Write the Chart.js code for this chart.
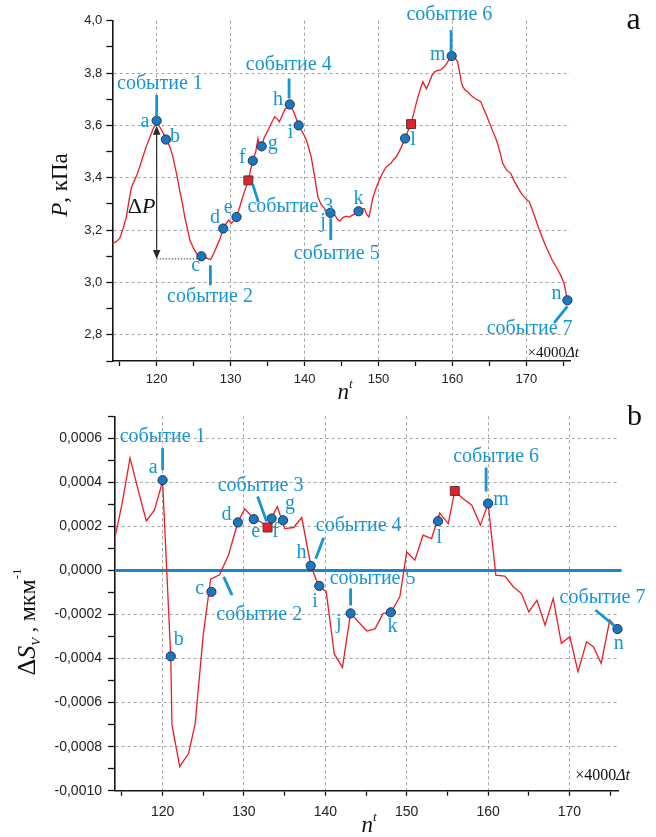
<!DOCTYPE html>
<html>
<head>
<meta charset="utf-8">
<script src="https://cdn.jsdelivr.net/npm/chart.js@4.4.1/dist/chart.umd.min.js"></script>
<style>
  html, body { margin: 0; padding: 0; background: #fff; }
  #wrap { position: relative; width: 656px; height: 837px; overflow: hidden; }
  #cTop { position: absolute; left: 0; top: 0; }
  #cBot { position: absolute; left: 0; top: 400px; }
</style>
</head>
<body>
<div id="wrap">
  <canvas id="cTop" width="656" height="405"></canvas>
  <canvas id="cBot" width="656" height="437"></canvas>
</div>
<script>
// ---------- shared axis ticks ----------
const xMajor = [120, 130, 140, 150, 160, 170];
const xMinor = [115, 125, 135, 145, 155, 165, 175];
const markLetters = ['a','b','c','d','e','f','g','h','i','j','k','l','m','n'];
const eventNames = ['событие 1','событие 2','событие 3','событие 4','событие 5','событие 6','событие 7'];

// ---------- panel a: pressure P, kPa ----------
const pN = [114.0,114.5,115.0,115.5,115.9,116.3,116.6,117.0,117.4,117.8,118.2,118.6,119.1,119.5,120.0,
  120.4,120.9,121.4,121.8,122.2,122.5,122.8,123.1,123.5,123.8,124.2,124.5,125.0,125.4,125.8,126.2,126.7,
  127.0,127.3,127.7,128.1,128.6,129.0,129.4,129.7,130.1,130.5,130.8,131.2,131.5,131.9,132.4,132.7,133.0,
  133.4,133.7,133.9,134.2,134.5,134.85,135.2,135.5,135.95,136.3,136.6,137.0,137.3,137.7,138.0,138.4,138.7,
  139.0,139.3,139.8,140.25,140.6,140.9,141.2,141.4,141.6,141.8,142.2,142.7,143.1,143.5,144.1,144.5,144.8,
  145.2,145.6,146.0,146.5,146.9,147.3,147.7,148.1,148.4,148.7,148.95,149.2,149.6,150.1,150.5,151.0,151.4,
  151.7,152.0,152.4,152.8,153.1,153.6,154.0,154.4,154.8,155.1,155.5,156.0,156.3,156.5,156.8,157.25,157.6,
  158.0,158.4,158.9,159.3,159.6,159.9,160.3,160.7,161.0,161.2,161.4,161.7,162.05,162.4,162.7,163.2,163.6,
  163.85,164.2,164.5,165.0,165.4,165.8,166.1,166.5,166.8,167.3,167.9,168.3,168.8,169.2,169.7,170.1,170.4,
  170.9,171.3,171.7,172.2,172.6,173.1,173.5,174.0,174.4,174.65,175.1,175.55];
const pVal = [3.150,3.155,3.168,3.210,3.250,3.320,3.365,3.390,3.416,3.450,3.486,3.520,3.556,3.585,3.612,
  3.595,3.570,3.540,3.518,3.480,3.440,3.400,3.353,3.300,3.250,3.200,3.161,3.130,3.110,3.105,3.098,3.095,
  3.090,3.088,3.110,3.136,3.170,3.206,3.225,3.238,3.225,3.240,3.250,3.285,3.314,3.350,3.390,3.430,3.465,
  3.500,3.550,3.525,3.520,3.550,3.570,3.590,3.608,3.633,3.625,3.614,3.640,3.659,3.672,3.680,3.660,3.640,
  3.615,3.595,3.570,3.544,3.510,3.480,3.430,3.400,3.360,3.327,3.300,3.282,3.270,3.266,3.257,3.240,3.235,
  3.248,3.253,3.250,3.257,3.262,3.272,3.280,3.282,3.260,3.250,3.280,3.320,3.355,3.390,3.415,3.440,3.450,
  3.455,3.468,3.480,3.500,3.518,3.550,3.580,3.608,3.650,3.684,3.725,3.767,3.750,3.740,3.760,3.792,3.805,
  3.810,3.812,3.824,3.840,3.855,3.865,3.860,3.843,3.800,3.765,3.748,3.735,3.729,3.718,3.710,3.700,3.695,
  3.690,3.665,3.646,3.610,3.582,3.555,3.531,3.490,3.455,3.430,3.416,3.390,3.365,3.345,3.327,3.315,3.308,
  3.270,3.238,3.205,3.168,3.140,3.110,3.085,3.060,3.040,3.027,2.996,2.932];
const pMarkN   = [120.0, 121.25, 126.05, 129.0, 130.8, 133.0, 134.2, 138.0, 139.2, 143.5, 147.3, 153.6, 159.9, 175.55];
const pMarkVal = [3.618, 3.546, 3.100, 3.206, 3.250, 3.465, 3.520, 3.680, 3.600, 3.266, 3.272, 3.550, 3.865, 2.932];
const pSqN   = [132.4, 154.4];
const pSqVal = [3.390, 3.605];
const dPLow = 3.09;               // lower end of the ΔP arrow
const pYMajor = [2.8, 3.0, 3.2, 3.4, 3.6, 3.8, 4.0];
const pYMinor = [2.7, 2.9, 3.1, 3.3, 3.5, 3.7, 3.9];

// ---------- panel b: ΔS_V, 1/мкм ----------
const sN = [114.15,115,116,117,118,119,120,121,121.15,122.1,123.2,124,125,125.9,127,128.1,129.25,130.1,
  131.2,132.1,132.9,133.4,134.1,135,136.1,137.1,138.2,139.2,140.1,141.1,142.1,143.1,145.1,146.1,147.1,
  148.05,149.15,150,151,152,153.05,154.05,155.1,155.9,156.9,158,159.05,160,160.95,162.05,163.1,164.1,165,
  166,167,168,169,170.05,171.05,172.1,172.95,173.9,174.95,175.9];
const sVal = [0.00015,0.00030,0.00051,0.000365,0.000225,0.000275,0.000405,-0.00039,-0.00070,-0.00089,
  -0.00083,-0.000695,-0.00029,-0.00004,-0.00002,0.00007,0.00022,0.00028,0.000235,0.00022,0.000195,0.00024,
  0.00029,0.00019,0.000195,0.00024,0.000025,-0.000075,-0.000095,-0.00038,-0.00044,-0.000195,-0.000275,
  -0.000265,-0.000195,-0.000192,-0.00012,0.000084,0.000047,0.00016,0.000145,0.00026,0.000213,0.000361,
  0.000327,0.000296,0.000206,0.000304,-0.000021,-0.000026,-0.000074,-0.000105,-0.000188,-0.000135,
  -0.000248,-0.000127,-0.000331,-0.000301,-0.00046,-0.000324,-0.000347,-0.000422,-0.000225,-0.000266];
const sMarkN   = [120.0, 121.0, 126.0, 129.25, 131.2, 133.4, 134.8, 138.2, 139.25, 143.1, 148.05, 153.85, 160.0, 175.9];
const sMarkVal = [0.00041, -0.00039, -0.000097, 0.000218, 0.000233, 0.000236, 0.000228, 0.000021, -0.00007,
  -0.000195, -0.00019, 0.000224, 0.000304, -0.000266];
const sSqN   = [132.9, 155.9];
const sSqVal = [0.000195, 0.000361];
const sRefN   = [114.15, 176.4];  // zero reference level
const sRefVal = [0, 0];
const sYMajor = [-0.0010, -0.0008, -0.0006, -0.0004, -0.0002, 0.0000, 0.0002, 0.0004, 0.0006];
const sYMinor = [-0.0009, -0.0007, -0.0005, -0.0003, -0.0001, 0.0001, 0.0003, 0.0005, 0.0007];

// ---------- styling ----------
const SERIF = '"Liberation Serif", "Times New Roman", serif';
const SANS = '"Liberation Sans", Arial, sans-serif';
const RED = '#ec1c24';
const BLUE_TXT = '#1596d3';
const BLUE_MK = '#1a78c0';
const MK_EDGE = '#1d3550';
const GRID = '#a3a3a3';
const AXIS = '#151515';
const EVENT_FONT = '20px ' + SERIF;
const LETTER_FONT = '20px ' + SERIF;

const pts = (xs, ys) => xs.map((x, i) => ({ x: x, y: ys[i] }));
const tickList = (main, minor) =>
  main.map(v => ({ value: v, main: true })).concat(minor.map(v => ({ value: v, main: false })))
      .sort((a, b) => a.value - b.value);

function richWidth(ctx, runs) {
  let w = 0;
  runs.forEach(r => { ctx.font = r.font; w += ctx.measureText(r.t).width; });
  return w;
}
function drawRich(ctx, runs, x, y, align) {
  const w = richWidth(ctx, runs);
  let cx = align === 'center' ? x - w / 2 : align === 'right' ? x - w : x;
  ctx.textAlign = 'left';
  ctx.textBaseline = 'alphabetic';
  runs.forEach(r => {
    ctx.font = r.font;
    ctx.fillText(r.t, cx, y + (r.dy || 0));
    cx += ctx.measureText(r.t).width;
  });
}
function segment(ctx, x1, y1, x2, y2) {
  ctx.beginPath(); ctx.moveTo(x1, y1); ctx.lineTo(x2, y2); ctx.stroke();
}

// captions, callouts and axis titles
function makeNotes(o) {
  return {
    id: 'notes' + o.key,
    afterDatasetsDraw(chart) {
      const ctx = chart.ctx, xs = chart.scales.x, ys = chart.scales.y;
      const px = (n, v) => ({ x: xs.getPixelForValue(n), y: ys.getPixelForValue(v) });
      ctx.save();
      o.events.forEach((ev, k) => {
        const p = ev.sq ? px(o.sqN[ev.i], o.sqV[ev.i]) : px(o.markN[ev.i], o.markV[ev.i]);
        ctx.strokeStyle = BLUE_TXT; ctx.lineWidth = 2.8; ctx.lineCap = 'butt';
        segment(ctx, p.x + ev.line[0], p.y + ev.line[1], p.x + ev.line[2], p.y + ev.line[3]);
        ctx.fillStyle = BLUE_TXT; ctx.font = EVENT_FONT;
        ctx.textAlign = 'center'; ctx.textBaseline = 'middle';
        ctx.fillText(eventNames[k], p.x + ev.text[0], p.y + ev.text[1]);
      });
      ctx.fillStyle = BLUE_TXT; ctx.font = LETTER_FONT;
      ctx.textAlign = 'center'; ctx.textBaseline = 'middle';
      markLetters.forEach((L, i) => {
        const p = px(o.markN[i], o.markV[i]);
        ctx.fillText(L, p.x + o.letterOff[i][0], p.y + o.letterOff[i][1] - 2);
      });
      ctx.fillStyle = '#111';
      o.extras(ctx, chart, px);
      ctx.restore();
    }
  };
}

function axisX(min, max, h, pad, fs) {
  return {
    type: 'linear', min: min, max: max,
    afterBuildTicks: s => { s.ticks = tickList(xMajor, xMinor); },
    afterFit: s => { s.height = h; },
    grid: {
      color: c => (c.tick && c.tick.main) ? GRID : 'rgba(0,0,0,0)',
      lineWidth: 1, drawTicks: true, tickLength: 5, tickWidth: 1.3, tickColor: AXIS
    },
    border: { display: true, color: AXIS, width: 1.6, dash: [3, 3] },
    ticks: {
      autoSkip: false, maxRotation: 0, padding: pad, color: '#222',
      font: { family: SANS, size: fs },
      callback: (v, i, t) => t[i].main ? String(v) : ''
    }
  };
}
function axisY(min, max, main, minor, w, tl, pad, fs, fmt) {
  return {
    type: 'linear', min: min, max: max,
    afterBuildTicks: s => { s.ticks = tickList(main, minor); },
    afterFit: s => { s.width = w; },
    grid: {
      color: c => (c.tick && c.tick.main && c.tick.value < max - 1e-9 && c.tick.value > min + 1e-9) ? GRID : 'rgba(0,0,0,0)',
      lineWidth: 1, drawTicks: true, tickLength: tl, tickWidth: 1.3, tickColor: AXIS
    },
    border: { display: true, color: AXIS, width: 1.6, dash: [3, 3] },
    ticks: {
      autoSkip: false, padding: pad, color: '#222',
      font: { family: SANS, size: fs },
      callback: (v, i, t) => t[i].main ? fmt(v) : ''
    }
  };
}

const baseOpts = {
  responsive: false, animation: false, events: [],
  plugins: { legend: { display: false }, tooltip: { enabled: false } }
};
const markerSet = (data) => ({
  data: data, showLine: false, pointRadius: 4.6, pointBackgroundColor: BLUE_MK,
  pointBorderColor: MK_EDGE, pointBorderWidth: 1, order: 0, clip: false
});
const squareSet = (data) => ({
  data: data, showLine: false, pointStyle: 'rect', pointRadius: 6.3, pointBackgroundColor: '#e42229',
  pointBorderColor: '#553333', pointBorderWidth: 1, order: 1, clip: false
});

// ---------- panel a ----------
const notesTop = makeNotes({
  key: 'Top', markN: pMarkN, markV: pMarkVal, sqN: pSqN, sqV: pSqVal,
  letterOff: [[-11.7,3.3],[9,-1],[-5.7,11.6],[-8.3,-8.3],[-8.4,-7.7],[-10.4,-1],[11,-1],[-11.7,-2.6],
              [-8,9.7],[-7.4,10.6],[0,-11],[8,3.4],[-14,0.7],[-11,-5]],
  events: [
    { i: 0,  line: [0, -25.7, 0, -4],      text: [3.3, -36.7] },
    { i: 2,  line: [9, 9, 9, 29],          text: [8.6, 40] },
    { i: 0, sq: true, line: [4.4, 4, 10, 21.7], text: [42, 26.3] },
    { i: 7,  line: [-0.7, -26, -0.7, -6],  text: [-1, -39.3] },
    { i: 9,  line: [0.3, 5.5, 0.3, 27.3],  text: [6.3, 41.3] },
    { i: 12, line: [-0.6, -26, -0.6, -4.5], text: [-2.3, -41] },
    { i: 13, line: [0, 6, -13.3, 22.7],    text: [-37.8, 28.3] }
  ],
  extras(ctx, chart, px) {
    const a = px(pMarkN[0], pMarkVal[0]);
    const yLow = chart.scales.y.getPixelForValue(dPLow);
    const xc = chart.scales.x.getPixelForValue(pMarkN[2]);
    // dotted level of the trough
    ctx.strokeStyle = '#444'; ctx.lineWidth = 1; ctx.setLineDash([1.5, 1.5]);
    segment(ctx, a.x, yLow, xc, yLow);
    ctx.setLineDash([]);
    // double-headed ΔP arrow
    const yTop = a.y + 5;
    ctx.strokeStyle = '#2a2a2a'; ctx.lineWidth = 1.2;
    segment(ctx, a.x, yTop + 6, a.x, yLow - 6);
    ctx.fillStyle = '#2a2a2a';
    ctx.beginPath(); ctx.moveTo(a.x, yTop); ctx.lineTo(a.x - 3.8, yTop + 9); ctx.lineTo(a.x + 3.8, yTop + 9); ctx.closePath(); ctx.fill();
    ctx.beginPath(); ctx.moveTo(a.x, yLow); ctx.lineTo(a.x - 3.8, yLow - 9); ctx.lineTo(a.x + 3.8, yLow - 9); ctx.closePath(); ctx.fill();
    ctx.fillStyle = '#111';
    drawRich(ctx, [{ t: 'Δ', font: '22px ' + SERIF }, { t: 'P', font: 'italic 22px ' + SERIF }],
      a.x - 15, (yTop + yLow) / 2 + 21, 'center');
    // axis titles
    ctx.save();
    ctx.translate(66.5, 185); ctx.rotate(-Math.PI / 2);
    drawRich(ctx, [{ t: 'P', font: 'italic 23px ' + SERIF }, { t: ', кПа', font: '23px ' + SERIF }], 0, 0, 'center');
    ctx.restore();
    drawRich(ctx, [{ t: 'n', font: 'italic 23px ' + SERIF }, { t: 't', font: 'italic 13px ' + SERIF, dy: -11 }], 345, 399, 'center');
    drawRich(ctx, [{ t: '×4000', font: '15px ' + SERIF }, { t: 'Δt', font: 'italic 15px ' + SERIF }], 579, 357, 'right');
    ctx.font = '32px ' + SERIF; ctx.textAlign = 'center'; ctx.textBaseline = 'alphabetic';
    ctx.fillText('a', 633.5, 29);
  }
});

new Chart(document.getElementById('cTop'), {
  type: 'scatter',
  data: {
    datasets: [
      markerSet(pts(pMarkN, pMarkVal)),
      squareSet(pts(pSqN, pSqVal)),
      { data: pts(pN, pVal), showLine: true, borderColor: RED, borderWidth: 1.3, pointRadius: 0, tension: 0, order: 2 }
    ]
  },
  options: Object.assign({}, baseOpts, {
    layout: { padding: { left: 0, right: 86, top: 20.7, bottom: 0 } },
    scales: {
      x: axisX(114, 175.9, 44, 6, 13),
      y: axisY(2.7, 4.0, pYMajor, pYMinor, 112.3, 6, 4, 13, v => v.toFixed(1).replace('.', ','))
    }
  }),
  plugins: [notesTop]
});

// ---------- panel b ----------
const fmtS = v => (Math.abs(v) < 1e-12 ? 0 : v).toFixed(4).replace('.', ',');
const notesBot = makeNotes({
  key: 'Bot', markN: sMarkN, markV: sMarkVal, sqN: sSqN, sqV: sSqVal,
  letterOff: [[-9.4,-10.7],[8,-14.6],[-11.7,-0.7],[-11.3,-5.6],[2,15],[4,15.7],[7,-15],[-9.3,-10.7],
              [-4.3,18.3],[-11.7,11.7],[1.7,16],[1.3,19],[13,-1.6],[1.3,16.7]],
  events: [
    { i: 0,  line: [0, -32, 0, -10],          text: [0, -43] },
    { i: 2,  line: [12.3, -15, 20.6, 3.3],    text: [47.8, 23.3] },
    { i: 0, sq: true, line: [-10, -31, -1, -6], text: [-7, -42] },
    { i: 7,  line: [13, -28, 5, -7],          text: [48, -40] },
    { i: 9,  line: [0, -25, 0, -8],           text: [22, -35] },
    { i: 12, line: [-2, -36, -2, -12],        text: [8, -47] },
    { i: 13, line: [-22, -19, -3, -3],        text: [-15, -31] }
  ],
  extras(ctx) {
    ctx.save();
    ctx.translate(35, 222); ctx.rotate(-Math.PI / 2);
    drawRich(ctx, [
      { t: 'Δ', font: '26px ' + SERIF },
      { t: 'S', font: 'italic 26px ' + SERIF },
      { t: 'V', font: 'italic 13px ' + SERIF, dy: 5 },
      { t: ' , ', font: '22px ' + SERIF },
      { t: 'мкм', font: '24px ' + SERIF },
      { t: '-1', font: '13px ' + SERIF, dy: -14 }
    ], 0, 0, 'center');
    ctx.restore();
    drawRich(ctx, [{ t: 'n', font: 'italic 23px ' + SERIF }, { t: 't', font: 'italic 13px ' + SERIF, dy: -11 }], 369, 432, 'center');
    drawRich(ctx, [{ t: '×4000', font: '16px ' + SERIF }, { t: 'Δt', font: 'italic 16px ' + SERIF }], 630, 380, 'right');
    ctx.font = '30px ' + SERIF; ctx.textAlign = 'center'; ctx.textBaseline = 'alphabetic';
    ctx.fillText('b', 634.5, 25);
  }
});

new Chart(document.getElementById('cBot'), {
  type: 'scatter',
  data: {
    datasets: [
      markerSet(pts(sMarkN, sMarkVal)),
      squareSet(pts(sSqN, sSqVal)),
      { data: pts(sN, sVal), showLine: true, borderColor: RED, borderWidth: 1.3, pointRadius: 0, tension: 0, order: 2 },
      { data: pts(sRefN, sRefVal), showLine: true, borderColor: '#1888cc', borderWidth: 3, pointRadius: 0, order: 3, clip: false }
    ]
  },
  options: Object.assign({}, baseOpts, {
    layout: { padding: { left: 0, right: 37.7, top: 16.3, bottom: 0 } },
    scales: {
      x: axisX(114.15, 176, 46.3, 8, 14),
      y: axisY(-0.001, 0.0007, sYMajor, sYMinor, 115, 7, 6, 14, fmtS)
    }
  }),
  plugins: [notesBot]
});
</script>
</body>
</html>
